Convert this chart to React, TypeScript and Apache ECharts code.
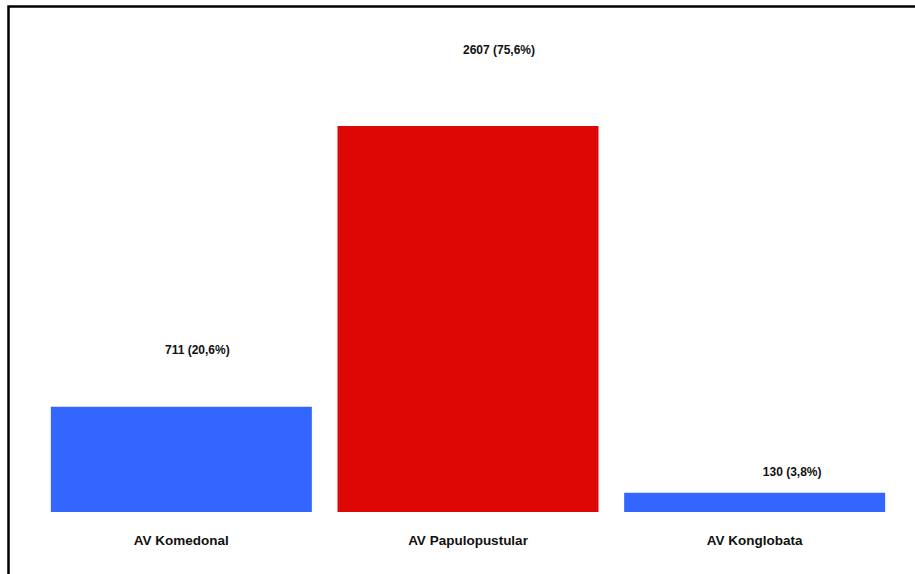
import React, { useEffect, useRef } from "react";
import * as echarts from "echarts";

const categories = ["AV Komedonal", "AV Papulopustular", "AV Konglobata"];
const counts = [711, 2607, 130];
const percents = ["20,6", "75,6", "3,8"];

const barColors = ["#3366ff", "#dd0806", "#3366ff"];
const labelOffsets = [
  [16, -51],
  [31, -70],
  [37.5, -15],
];

export default function App() {
  const ref = useRef<HTMLDivElement>(null);
  useEffect(() => {
    if (!ref.current) return;
    const chart = echarts.init(ref.current, undefined, { renderer: "svg" });
    chart.setOption({
      animation: false,
      backgroundColor: "#ffffff",
      graphic: [
        {
          type: "rect",
          shape: { x: 8.5, y: 6.5, width: 1000, height: 1000 },
          style: { fill: "none", stroke: "#000000", lineWidth: 2.5 },
          z: 100,
        },
      ],
      grid: { left: 38, right: 17, top: 67.8, bottom: 62 },
      xAxis: {
        type: "category",
        data: categories,
        axisLine: { show: false },
        axisTick: { show: false },
        axisLabel: {
          margin: 21,
          fontSize: 13.5,
          fontWeight: "bold",
          color: "#111111",
          fontFamily: "Liberation Sans, Arial, sans-serif",
        },
      },
      yAxis: {
        type: "value",
        min: 0,
        max: 3000,
        show: false,
        splitLine: { show: false },
      },
      series: [
        {
          type: "bar",
          barWidth: 261,
          data: counts.map((v, i) => ({
            value: v,
            itemStyle: { color: barColors[i] },
            label: {
              show: true,
              position: "top",
              distance: 0,
              offset: labelOffsets[i],
              formatter: `${v} (${percents[i]}%)`,
              fontSize: 12,
              fontWeight: "bold",
              color: "#111111",
              fontFamily: "Liberation Sans, Arial, sans-serif",
            },
          })),
        },
      ],
    });
    return () => chart.dispose();
  }, []);
  return (
    <div
      ref={ref}
      style={{ position: "absolute", left: 0, top: 0, width: 915, height: 574 }}
    />
  );
}
